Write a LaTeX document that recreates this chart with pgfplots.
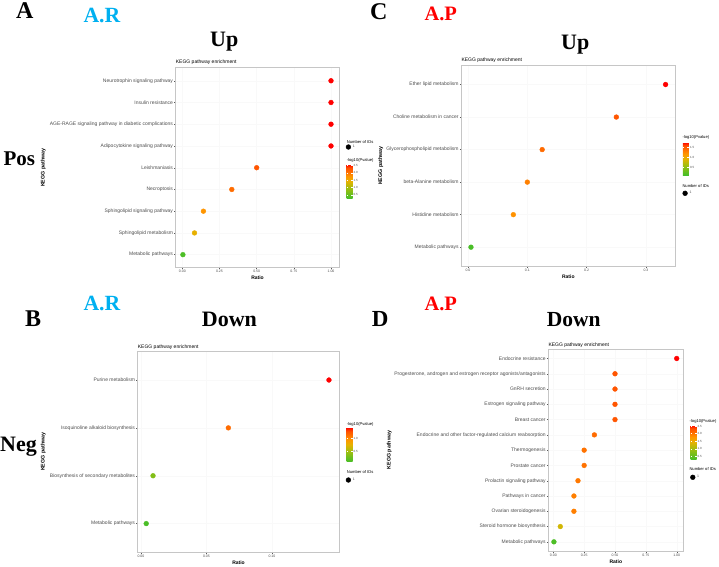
\documentclass[border=0pt]{standalone}
\usepackage{fontspec}
\setmainfont{Liberation Sans}
\newfontfamily\tnr{Liberation Serif}
\usepackage{pgfplots}
\pgfplotsset{compat=1.18}
\newcommand\fs[1]{\fontsize{#1}{#1}\selectfont}
\definecolor{arcyan}{RGB}{0,176,240}
\definecolor{apred}{RGB}{255,0,0}
\definecolor{lab}{RGB}{77,77,77}

\pgfplotsset{
  colormap={kegg}{rgb255(0cm)=(70,190,40); rgb255(6cm)=(160,190,15); rgb255(10cm)=(230,178,0); rgb255(13cm)=(255,150,0); rgb255(16cm)=(255,105,0); rgb255(18cm)=(255,80,0); rgb255(20cm)=(255,0,0)},
  kegg/.style={
    scale only axis, anchor=south west,
    axis line style={gray!45, line width=0.6pt},
    tick align=outside, major tick length=1.5pt,
    tick style={gray!70!black, line width=0.4pt},
    tick pos=left,
    xmajorgrids, ymajorgrids, grid style={gray!5, line width=0.4pt},
    ymin=0.4,
    yticklabel style={font=\fs{5}, text=lab, inner sep=1pt},
    xticklabel style={font=\fs{3.5}, text=lab, inner sep=1pt},
    /pgf/number format/assume math mode=true,
    xlabel={Ratio},
    xlabel style={font=\fs{5}\bfseries, at={(axis description cs:0.5,0)}, anchor=center, yshift=-10.3pt},
    colorbar, colormap name=kegg,
    colorbar style={scale only axis, width=6pt, anchor=north west, grid=none,
      axis line style={draw=none}, tick align=inside, major tick length=1.5pt,
      tick style={white, line width=0.4pt}, yticklabel pos=right,
      yticklabel style={font=\fs{3}, text=lab, inner sep=1pt,
        /pgf/number format/.cd, fixed, fixed zerofill, precision=1, assume math mode=true}},
    legend style={draw=none, fill=none, inner sep=0pt, font=\fs{3.5}\color{lab}, anchor=west},
    point meta=explicit,
  },
  keggpts/.style={scatter, only marks, mark=*, mark size=2.4pt, forget plot,
    scatter/use mapped color={draw=mapped color, fill=mapped color}},
  dotleg/.style={legend image code/.code={\draw[black, fill=black, mark=*, mark size=2.4pt, only marks] plot coordinates {(2.5pt,0pt)};}},
}

\begin{document}
\begin{tikzpicture}[x=1pt,y=1pt]
\path[use as bounding box] (0,0) rectangle (719,566);

% ---------------- Panel A ----------------
\begin{axis}[kegg, at={(175.7pt,298.3pt)}, width=163.6pt, height=200pt,
  xmin=-0.0444, xmax=1.0558, ymax=9.6,
  xtick={0,0.25,0.5,0.75,1}, xticklabels={0.00,0.25,0.50,0.75,1.00},
  ytick={1,2,3,4,5,6,7,8,9},
  yticklabels={Metabolic pathways, Sphingolipid metabolism, Sphingolipid signaling pathway, Necroptosis, Leishmaniasis, Adipocytokine signaling pathway, AGE-RAGE signaling pathway in diabetic complications, Insulin resistance, Neurotrophin signaling pathway},
  point meta min=0.27, point meta max=2.57,
  colorbar style={at={(parent axis.north east)}, xshift=-1.3pt, yshift=-96.6pt, height=34pt, ytick={0.5,1,1.5,2,2.5}},
  legend style={at={(1.0397,0.6035)}},
]
\addplot[keggpts] coordinates {
  (0.004,1) [0.32]
  (0.082,2) [1.44]
  (0.142,3) [1.77]
  (0.333,4) [2.09]
  (0.5,5)   [2.29]
  (1.0,6)   [2.57]
  (1.0,7)   [2.57]
  (1.0,8)   [2.57]
  (1.0,9)   [2.57]
};
\addlegendimage{dotleg}
\addlegendentry{1}
\end{axis}

% ---------------- Panel B ----------------
\begin{axis}[kegg, at={(137.7pt,13.7pt)}, width=201.6pt, height=201pt,
  xmin=-0.0025, xmax=0.1514, ymax=4.6,
  xtick={0,0.05,0.1}, xticklabels={0.00,0.05,0.10},
  ytick={1,2,3,4},
  yticklabels={Metabolic pathways, Biosynthesis of secondary metabolites, Isoquinoline alkaloid biosynthesis, Purine metabolism},
  point meta min=0.08, point meta max=1.43,
  colorbar style={at={(parent axis.north east)}, xshift=-1.3pt, yshift=-76.2pt, height=34.2pt, ytick={0.5,1.0}},
  legend style={at={(1.0322,0.3597)}},
]
\addplot[keggpts] coordinates {
  (0.004,1)  [0.10]
  (0.0092,2) [0.35]
  (0.0667,3) [1.15]
  (0.1435,4) [1.43]
};
\addlegendimage{dotleg}
\addlegendentry{1}
\end{axis}

% ---------------- Panel C ----------------
\begin{axis}[kegg, at={(461.3pt,299.3pt)}, width=214pt, height=201.7pt,
  xmin=-0.0113, xmax=0.3494, ymax=6.6,
  xtick={0,0.1,0.2,0.3}, xticklabels={0.0,0.1,0.2,0.3},
  ytick={1,2,3,4,5,6},
  yticklabels={Metabolic pathways, Histidine metabolism, beta-Alanine metabolism, Glycerophospholipid metabolism, Choline metabolism in cancer, Ether lipid metabolism},
  point meta min=0.115, point meta max=1.75,
  colorbar style={at={(parent axis.north east)}, xshift=-1pt, yshift=-77.3pt, height=32.7pt, ytick={0.5,1,1.5}},
  legend style={at={(1.0336,0.3639)}},
]
\addplot[keggpts] coordinates {
  (0.005,1)  [0.13]
  (0.0764,2) [1.20]
  (0.1,3)    [1.30]
  (0.125,4)  [1.42]
  (0.25,5)   [1.55]
  (0.333,6)  [1.75]
};
\addlegendimage{dotleg}
\addlegendentry{1}
\end{axis}

% ---------------- Panel D ----------------
\begin{axis}[kegg, at={(548.3pt,15pt)}, width=135pt, height=201.7pt,
  xmin=-0.0405, xmax=1.0535, ymax=13.6,
  xtick={0,0.25,0.5,0.75,1}, xticklabels={0.00,0.25,0.50,0.75,1.00},
  ytick={1,2,3,4,5,6,7,8,9,10,11,12,13},
  yticklabels={Metabolic pathways, Steroid hormone biosynthesis, Ovarian steroidogenesis, Pathways in cancer, Prolactin signaling pathway, Prostate cancer, Thermogenesis, Endocrine and other factor-regulated calcium reabsorption, Breast cancer, Estrogen signaling pathway, GnRH secretion, {Progesterone, androgen and estrogen receptor agonists/antagonists}, Endocrine resistance},
  point meta min=0.3, point meta max=2.57,
  colorbar style={at={(parent axis.north east)}, xshift=-1.3pt, yshift=-75.7pt, height=34.3pt, ytick={0.5,1,1.5,2,2.5}},
  legend style={at={(1.0511,0.3654)}},
]
\addplot[keggpts] coordinates {
  (0.005,1)  [0.35]
  (0.0567,2) [1.30]
  (0.167,3)  [1.95]
  (0.167,4)  [1.95]
  (0.2,5)    [2.00]
  (0.25,6)   [2.05]
  (0.25,7)   [2.05]
  (0.333,8)  [2.10]
  (0.5,9)    [2.30]
  (0.5,10)   [2.30]
  (0.5,11)   [2.30]
  (0.5,12)   [2.30]
  (1.0,13)   [2.57]
};
\addlegendimage{dotleg}
\addlegendentry{1}
\end{axis}

% ---------------- Plot titles, axis titles, legend titles ----------------
\tikzset{ttl/.style={anchor=west, inner sep=0pt, font=\fs{5}},
         ylab/.style={rotate=90, inner sep=0pt, font=\fs{5.3}\bfseries},
         legt/.style={anchor=west, inner sep=0pt, font=\fs{4.1}}}
\node[ttl] at (175.7,504) {KEGG pathway enrichment};
\node[ttl] at (137.7,218.7) {KEGG pathway enrichment};
\node[ttl] at (461.3,506) {KEGG pathway enrichment};
\node[ttl] at (548.3,220.7) {KEGG pathway enrichment};

\node[ylab] at (43.3,398.3) {KEGG pathway};
\node[ylab] at (43.3,114.2) {KEGG pathway};
\node[ylab] at (380.7,400.2) {KEGG pathway};
\node[ylab] at (389.3,116) {KEGG pathway};

\node[legt] at (346.7,424.3) {Number of IDs};
\node[legt] at (346.7,405.3) {-log10(Pvalue)};
\node[legt] at (346.7,141.7) {-log10(Pvalue)};
\node[legt] at (346.7,93.5) {Number of IDs};
\node[legt] at (682.3,428.3) {-log10(Pvalue)};
\node[legt] at (682.3,379.5) {Number of IDs};
\node[legt] at (689.5,144.3) {-log10(Pvalue)};
\node[legt] at (689.3,96.7) {Number of IDs};

% ---------------- Panel letters and headings ----------------
\tikzset{big/.style={anchor=base west, inner sep=0pt, font=\tnr\bfseries\fs{#1}}}
\node[big=24] at (16,547) {A};
\node[big=21.7, text=arcyan] at (83.3,543.3) {A.R};
\node[big=22] at (210,519.3) {Up};
\node[big=21] at (3.3,400.3) {Pos};

\node[big=24] at (370,546) {C};
\node[big=20.5, text=apred] at (424.3,545) {A.P};
\node[big=22] at (561,516.7) {Up};

\node[big=24] at (25,240) {B};
\node[big=21.7, text=arcyan] at (83.3,256) {A.R};
\node[big=22] at (201.7,240) {Down};
\node[big=22] at (0,114.3) {Neg};

\node[big=23] at (371.7,239.3) {D};
\node[big=20.5, text=apred] at (424.3,255.3) {A.P};
\node[big=21.5] at (546.7,240) {Down};
\end{tikzpicture}
\end{document}
